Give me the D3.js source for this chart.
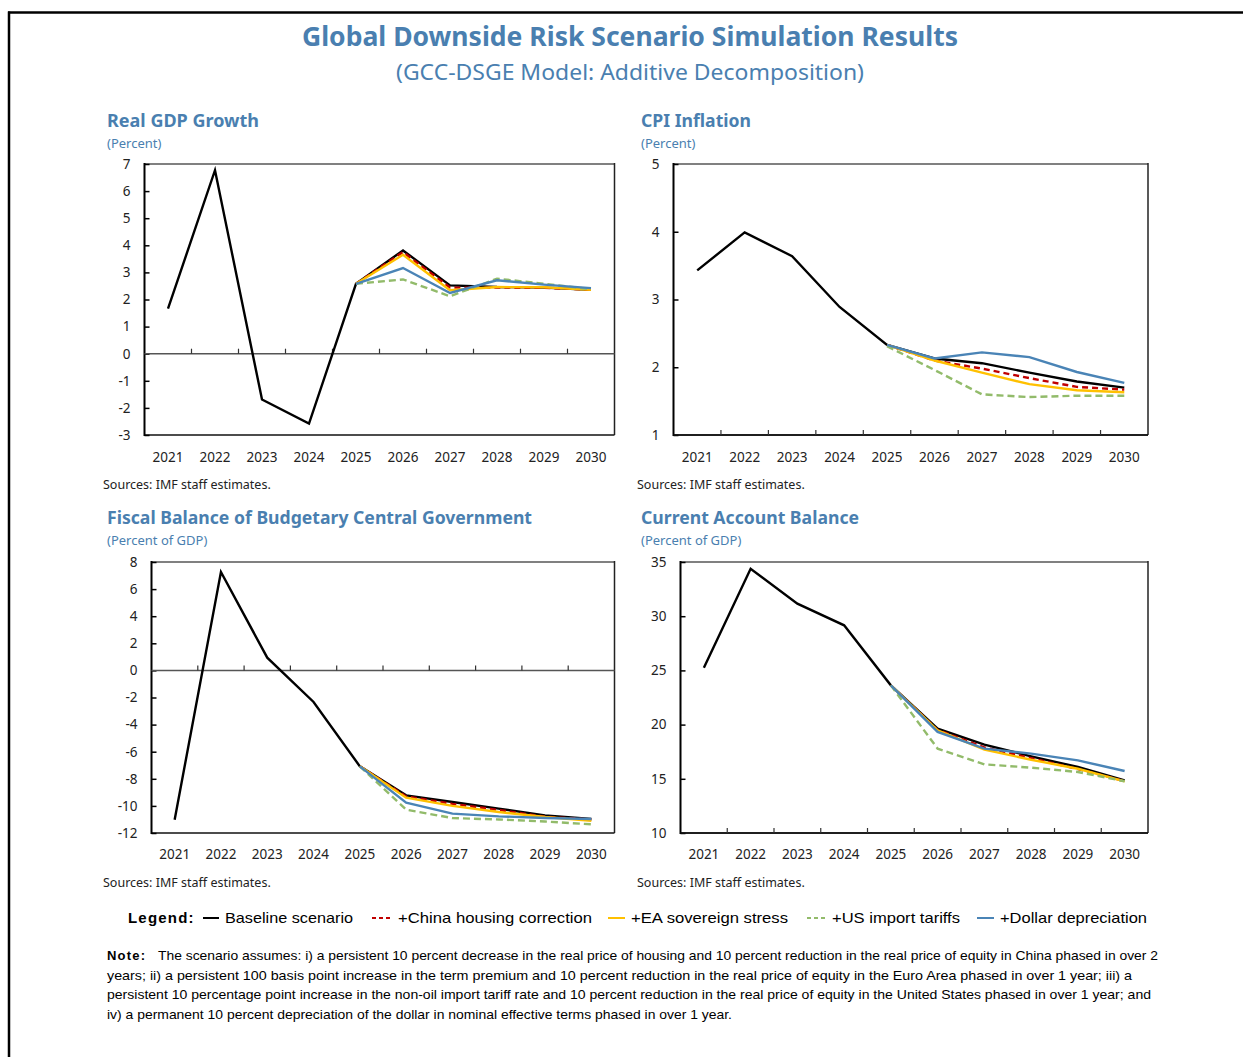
<!DOCTYPE html>
<html>
<head>
<meta charset="utf-8">
<script src="https://cdn.jsdelivr.net/npm/d3@7/dist/d3.min.js"></script>
<style>
  html, body { margin: 0; padding: 0; background: #fff; }
  svg { display: block; }
</style>
</head>
<body>
<svg id="chart" width="1243" height="1057"></svg>
<script>
// Years shown on every panel; scenarios start in 2025
const years = ["2021","2022","2023","2024","2025","2026","2027","2028","2029","2030"];
const scenarioYears = ["2025","2026","2027","2028","2029","2030"];

// Real GDP growth (percent)
const gdpBaseline = [1.66, 6.77, -1.69, -2.58, 2.58, 3.81, 2.52, 2.46, 2.44, 2.36];
const gdpChina    = [2.58, 3.75, 2.44, 2.44, 2.43, 2.36];
const gdpEA       = [2.58, 3.65, 2.34, 2.46, 2.45, 2.36];
const gdpUS       = [2.58, 2.74, 2.12, 2.77, 2.58, 2.38];
const gdpDollar   = [2.58, 3.16, 2.24, 2.71, 2.55, 2.42];

// CPI inflation (percent)
const cpiBaseline = [3.43, 3.99, 3.64, 2.89, 2.33, 2.13, 2.06, 1.92, 1.79, 1.70];
const cpiChina    = [2.33, 2.10, 1.98, 1.84, 1.71, 1.67];
const cpiEA       = [2.33, 2.10, 1.92, 1.75, 1.66, 1.63];
const cpiUS       = [2.31, 1.96, 1.60, 1.56, 1.58, 1.58];
const cpiDollar   = [2.33, 2.13, 2.22, 2.15, 1.93, 1.77];

// Fiscal balance of budgetary central government (percent of GDP)
const fbBaseline = [-11.02, 7.26, 0.94, -2.33, -7.08, -9.22, -9.71, -10.20, -10.70, -10.97];
const fbChina    = [-7.08, -9.30, -9.85, -10.30, -10.80, -11.00];
const fbEA       = [-7.08, -9.39, -10.00, -10.45, -10.82, -11.10];
const fbUS       = [-7.08, -10.28, -10.90, -11.00, -11.15, -11.36];
const fbDollar   = [-7.08, -9.76, -10.57, -10.77, -10.89, -10.97];

// Current account balance (percent of GDP)
const caBaseline = [25.25, 34.38, 31.16, 29.16, 23.62, 19.62, 18.15, 17.07, 16.09, 14.86];
const caChina    = [23.62, 19.50, 17.90, 16.90, 15.90, 14.80];
const caEA       = [23.62, 19.47, 17.69, 16.76, 15.93, 14.77];
const caUS       = [23.62, 17.78, 16.33, 16.03, 15.63, 14.77];
const caDollar   = [23.62, 19.32, 17.78, 17.32, 16.70, 15.72];

// Tick values for each y axis
const gdpTicks = [-3, -2, -1, 0, 1, 2, 3, 4, 5, 6, 7];
const cpiTicks = [1, 2, 3, 4, 5];
const fbTicks  = [-12, -10, -8, -6, -4, -2, 0, 2, 4, 6, 8];
const caTicks  = [10, 15, 20, 25, 30, 35];

const seriesNames = ["Baseline scenario", "+China housing correction", "+EA sovereign stress", "+US import tariffs", "+Dollar depreciation"];
const seriesColors = ["#000000", "#c00000", "#ffc000", "#92bb6a", "#4a84b6"];
const seriesDash = [null, "6,4", null, "7,4", null];

const noteLines = [
  "The scenario assumes: i) a persistent 10 percent decrease in the real price of housing and 10 percent reduction in the real price of equity in China phased in over 2",
  "years; ii) a persistent 100 basis point increase in the term premium and 10 percent reduction in the real price of equity in the Euro Area phased in over 1 year; iii) a",
  "persistent 10 percentage point increase in the non-oil import tariff rate and 10 percent reduction in the real price of equity in the United States phased in over 1 year; and",
  "iv) a permanent 10 percent depreciation of the dollar in nominal effective terms phased in over 1 year."
];

const svg = d3.select("#chart");
const blue = "#4a7fb0";
const uiFont = "'Noto Sans', 'Open Sans', sans-serif";
const arialFont = "'Liberation Sans', Arial, sans-serif";

// Outer frame (top and left rules)
svg.append("line").attr("x1", 8).attr("x2", 1243).attr("y1", 12.5).attr("y2", 12.5)
  .attr("stroke", "#000").attr("stroke-width", 2.5);
svg.append("line").attr("x1", 9).attr("x2", 9).attr("y1", 11.5).attr("y2", 1057)
  .attr("stroke", "#000").attr("stroke-width", 2.5);

// Main titles
svg.append("text").attr("x", 630).attr("y", 46).attr("text-anchor", "middle")
  .attr("font-family", uiFont).attr("font-weight", 700).attr("font-size", 26)
  .attr("fill", blue).attr("textLength", 656).attr("lengthAdjust", "spacingAndGlyphs")
  .text("Global Downside Risk Scenario Simulation Results");
svg.append("text").attr("x", 630).attr("y", 80).attr("text-anchor", "middle")
  .attr("font-family", uiFont).attr("font-size", 21)
  .attr("fill", blue).attr("textLength", 468).attr("lengthAdjust", "spacingAndGlyphs")
  .text("(GCC-DSGE Model: Additive Decomposition)");

function panel(cfg) {
  const g = svg.append("g");
  const x = d3.scaleBand().domain(years).range([cfg.left, cfg.right]).padding(0);
  const y = d3.scaleLinear().domain(cfg.domain).range([cfg.bottom, cfg.top]);
  const cx = d => x(d) + x.bandwidth() / 2;

  // Panel heading
  g.append("text").attr("x", cfg.titleX).attr("y", cfg.titleY)
    .attr("font-family", uiFont).attr("font-weight", 700).attr("font-size", 18)
    .attr("fill", blue).attr("textLength", cfg.titleW).attr("lengthAdjust", "spacingAndGlyphs")
    .text(cfg.title);
  g.append("text").attr("x", cfg.titleX).attr("y", cfg.titleY + 21)
    .attr("font-family", uiFont).attr("font-size", 13)
    .attr("fill", blue).text(cfg.unit);

  // Plot frame: grey top, dark right, black left and bottom
  g.append("line").attr("x1", cfg.left).attr("x2", cfg.right).attr("y1", cfg.top).attr("y2", cfg.top)
    .attr("stroke", "#808080").attr("stroke-width", 2);
  g.append("line").attr("x1", cfg.right).attr("x2", cfg.right).attr("y1", cfg.top - 1).attr("y2", cfg.bottom)
    .attr("stroke", "#222").attr("stroke-width", 1.5);
  g.append("line").attr("x1", cfg.left).attr("x2", cfg.right).attr("y1", cfg.bottom).attr("y2", cfg.bottom)
    .attr("stroke", "#111").attr("stroke-width", 1.5);

  // y axis with inward ticks
  const yAxis = d3.axisLeft(y).tickValues(cfg.ticks).tickSize(-5).tickPadding(14).tickFormat(d => String(d));
  const ya = g.append("g").attr("transform", `translate(${cfg.left},0)`).call(yAxis);
  ya.select(".domain").remove();
  ya.selectAll(".tick line").attr("stroke", "#000").attr("stroke-width", 1.5);
  ya.selectAll(".tick text").attr("font-family", uiFont).attr("font-size", 13.5).attr("fill", "#222");
  g.append("line").attr("x1", cfg.left).attr("x2", cfg.left).attr("y1", cfg.top - 1).attr("y2", cfg.bottom + 1)
    .attr("stroke", "#000").attr("stroke-width", 2);

  // x axis line (zero line where the range crosses zero) with upward ticks at band edges
  const axisY = y(cfg.domain[0] < 0 ? 0 : cfg.domain[0]);
  g.append("line").attr("x1", cfg.left).attr("x2", cfg.right).attr("y1", axisY).attr("y2", axisY)
    .attr("stroke", cfg.domain[0] < 0 ? "#555" : "#111").attr("stroke-width", 1.5);
  g.selectAll(".xedge").data(years.slice(1)).enter().append("line")
    .attr("x1", d => x(d)).attr("x2", d => x(d))
    .attr("y1", axisY).attr("y2", axisY - 5)
    .attr("stroke", "#333").attr("stroke-width", 1.2);

  // Year labels below the plot
  const xAxis = d3.axisBottom(x).tickSize(0).tickPadding(cfg.labelPad);
  const xa = g.append("g").attr("transform", `translate(0,${cfg.bottom})`).call(xAxis);
  xa.select(".domain").remove();
  xa.selectAll(".tick text").attr("font-family", uiFont).attr("font-size", 13.5).attr("fill", "#222");

  // Sources note
  g.append("text").attr("x", cfg.titleX - 4).attr("y", cfg.bottom + 54)
    .attr("font-family", uiFont).attr("font-size", 12.5).attr("fill", "#222")
    .text("Sources: IMF staff estimates.");

  // Lines
  const line = d3.line().x(d => cx(d.year)).y(d => y(d.value));
  const sets = [
    years.map((yr, i) => ({ year: yr, value: cfg.series[0][i] })),
    ...cfg.series.slice(1).map(arr => scenarioYears.map((yr, i) => ({ year: yr, value: arr[i] })))
  ];
  sets.forEach((pts, i) => {
    g.append("path").datum(pts).attr("d", line)
      .attr("fill", "none").attr("stroke", seriesColors[i])
      .attr("stroke-width", 2.4)
      .attr("stroke-dasharray", seriesDash[i])
      .attr("stroke-linejoin", "miter");
  });
}

panel({ title: "Real GDP Growth", titleW: 152, unit: "(Percent)", titleX: 107, titleY: 127,
  left: 144.5, right: 614.5, top: 164, bottom: 435, domain: [-3, 7], ticks: gdpTicks, labelPad: 17,
  series: [gdpBaseline, gdpChina, gdpEA, gdpUS, gdpDollar] });
panel({ title: "CPI Inflation", titleW: 110, unit: "(Percent)", titleX: 641, titleY: 127,
  left: 673.5, right: 1148, top: 164, bottom: 435, domain: [1, 5], ticks: cpiTicks, labelPad: 17,
  series: [cpiBaseline, cpiChina, cpiEA, cpiUS, cpiDollar] });
panel({ title: "Fiscal Balance of Budgetary Central Government", titleW: 425, unit: "(Percent of GDP)", titleX: 107, titleY: 524,
  left: 151.5, right: 614.5, top: 562, bottom: 833, domain: [-12, 8], ticks: fbTicks, labelPad: 16,
  series: [fbBaseline, fbChina, fbEA, fbUS, fbDollar] });
panel({ title: "Current Account Balance", titleW: 218, unit: "(Percent of GDP)", titleX: 641, titleY: 524,
  left: 680.5, right: 1148, top: 562, bottom: 833, domain: [10, 35], ticks: caTicks, labelPad: 16,
  series: [caBaseline, caChina, caEA, caUS, caDollar] });

// Legend
const legY = 923;
svg.append("text").attr("x", 128).attr("y", legY)
  .attr("font-family", arialFont).attr("font-weight", 700).attr("font-size", 15)
  .attr("letter-spacing", 1.2).attr("fill", "#000").text("Legend:");
const legendItems = [
  { sx: 203, ex: 219, tx: 225, tw: 128 },
  { sx: 372, ex: 392, tx: 398, tw: 194 },
  { sx: 608, ex: 625, tx: 631, tw: 157 },
  { sx: 807, ex: 826, tx: 832, tw: 128 },
  { sx: 977, ex: 994, tx: 1000, tw: 147 }
];
legendItems.forEach((it, i) => {
  svg.append("line").attr("x1", it.sx).attr("x2", it.ex).attr("y1", legY - 5).attr("y2", legY - 5)
    .attr("stroke", seriesColors[i]).attr("stroke-width", 2)
    .attr("stroke-dasharray", seriesDash[i] ? "4,3" : null);
  svg.append("text").attr("x", it.tx).attr("y", legY)
    .attr("font-family", arialFont).attr("font-size", 15).attr("fill", "#000")
    .attr("textLength", it.tw).attr("lengthAdjust", "spacingAndGlyphs")
    .text(seriesNames[i]);
});

// Note
svg.append("text").attr("x", 107).attr("y", 960)
  .attr("font-family", arialFont).attr("font-weight", 700).attr("font-size", 13)
  .attr("letter-spacing", 1.2).attr("fill", "#000").text("Note:");
const noteStart = [158, 107, 107, 107];
const noteEnd = [1158, 1132, 1151, 732];
noteLines.forEach((t, i) => {
  svg.append("text").attr("x", noteStart[i]).attr("y", 960 + i * 19.5)
    .attr("font-family", arialFont).attr("font-size", 13).attr("fill", "#000")
    .attr("textLength", noteEnd[i] - noteStart[i]).attr("lengthAdjust", "spacingAndGlyphs")
    .text(t);
});
</script>
</body>
</html>
